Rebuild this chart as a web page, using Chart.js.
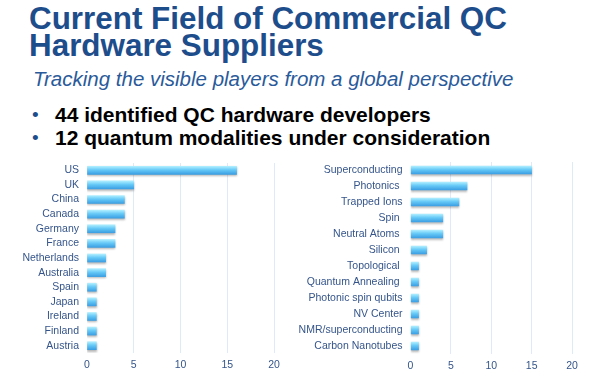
<!DOCTYPE html>
<html>
<head>
<meta charset="utf-8">
<script src="https://cdn.jsdelivr.net/npm/chart.js@4"></script>
<style>
  html, body { margin:0; padding:0; background:#fff; width:600px; height:389px; overflow:hidden; }
  .t { position:absolute; white-space:nowrap; font-family:"Liberation Sans", Arial, sans-serif; }
  .title { left:29px; font-size:31.4px; line-height:31px; font-weight:bold; color:#1e4d8c; }
  .sub { left:33px; font-size:20.5px; line-height:20.5px; font-style:italic; color:#2a5a9a; }
  .bul { left:55px; font-size:21px; line-height:21px; font-weight:bold; color:#000; }
  .dot { left:32px; font-size:19px; line-height:21px; color:#1e4d8c; }
  canvas { position:absolute; }
</style>
</head>
<body>
<div class="t title" style="top:3px">Current Field of Commercial QC</div>
<div class="t title" style="top:30px">Hardware Suppliers</div>
<div class="t sub" style="top:69px">Tracking the visible players from a global perspective</div>
<div class="t dot" style="top:104px">•</div>
<div class="t bul" style="top:104.2px">44 identified QC hardware developers</div>
<div class="t dot" style="top:127px">•</div>
<div class="t bul" style="top:127.2px">12 quantum modalities under consideration</div>

<canvas id="left" width="300" height="234" style="left:0px;top:155px;width:300px;height:234px"></canvas>
<canvas id="right" width="310" height="234" style="left:290px;top:155px;width:310px;height:234px"></canvas>

<script>
const countryLabels = ["US","UK","China","Canada","Germany","France","Netherlands","Australia","Spain","Japan","Ireland","Finland","Austria"];
const countryValues = [16,5,4,4,3,3,2,2,1,1,1,1,1];
const modalityLabels = ["Superconducting","Photonics ","Trapped Ions","Spin ","Neutral Atoms ","Silicon ","Topological ","Quantum Annealing ","Photonic spin qubits","NV Center","NMR/superconducting","Carbon Nanotubes"];
const modalityValues = [15,7,6,4,4,2,1,1,1,1,1,1];
const xTickValues = [0,5,10,15,20];

const FONT = '"Liberation Sans", Arial, sans-serif';
const LABEL_COLOR = '#35558a';

const shadowPlugin = {
  id: 'barShadow',
  beforeDatasetsDraw(chart) {
    const c = chart.ctx;
    c.save();
    c.shadowColor = 'rgba(0,0,0,0.28)';
    c.shadowBlur = 2;
    c.shadowOffsetY = 1.5;
  },
  afterDatasetsDraw(chart) { chart.ctx.restore(); }
};

function barFill(context) {
  const chart = context.chart;
  if (!chart.chartArea || context.type !== 'data') return '#5ec4f7';
  const y = chart.scales.y.getPixelForValue(context.dataIndex);
  const h = 8;
  const g = chart.ctx.createLinearGradient(0, y - h/2, 0, y + h/2);
  g.addColorStop(0, '#aeeeff');
  g.addColorStop(0.45, '#66c9f7');
  g.addColorStop(1, '#3b9fe3');
  return g;
}

function makeChart(id, labels, values, yWidth, padTop, padRight, xHeight) {
  return new Chart(document.getElementById(id), {
    type: 'bar',
    data: { labels: labels, datasets: [{ data: values, backgroundColor: barFill, borderWidth: 0, barThickness: 8 }] },
    plugins: [shadowPlugin],
    options: {
      indexAxis: 'y',
      responsive: false,
      devicePixelRatio: 1,
      animation: false,
      layout: { padding: { top: padTop, right: padRight, left: 0, bottom: 0 } },
      plugins: { legend: { display: false }, tooltip: { enabled: false } },
      scales: {
        x: {
          min: 0, max: 20,
          afterBuildTicks: s => { s.ticks = xTickValues.map(v => ({ value: v })); },
          afterFit: s => { s.height = xHeight; s.paddingLeft = 0; s.paddingRight = 0; },
          grid: { color: c => (c.tick && c.tick.value === 0) ? 'rgba(0,0,0,0)' : '#dfeaf8', lineWidth: 1, drawTicks: false },
          border: { display: false },
          ticks: { padding: 6, color: LABEL_COLOR, font: { family: FONT, size: 10.5 } }
        },
        y: {
          afterFit: s => { s.width = yWidth; s.paddingTop = 0; s.paddingBottom = 0; },
          grid: { display: false, drawTicks: false },
          border: { display: false },
          ticks: { padding: 8, autoSkip: false, color: LABEL_COLOR, font: { family: FONT, size: 10.5 } }
        }
      }
    }
  });
}

makeChart('left', countryLabels, countryValues, 87, 8, 26, 36);
makeChart('right', modalityLabels, modalityValues, 120.5, 7, 28, 35);
</script>
</body>
</html>
